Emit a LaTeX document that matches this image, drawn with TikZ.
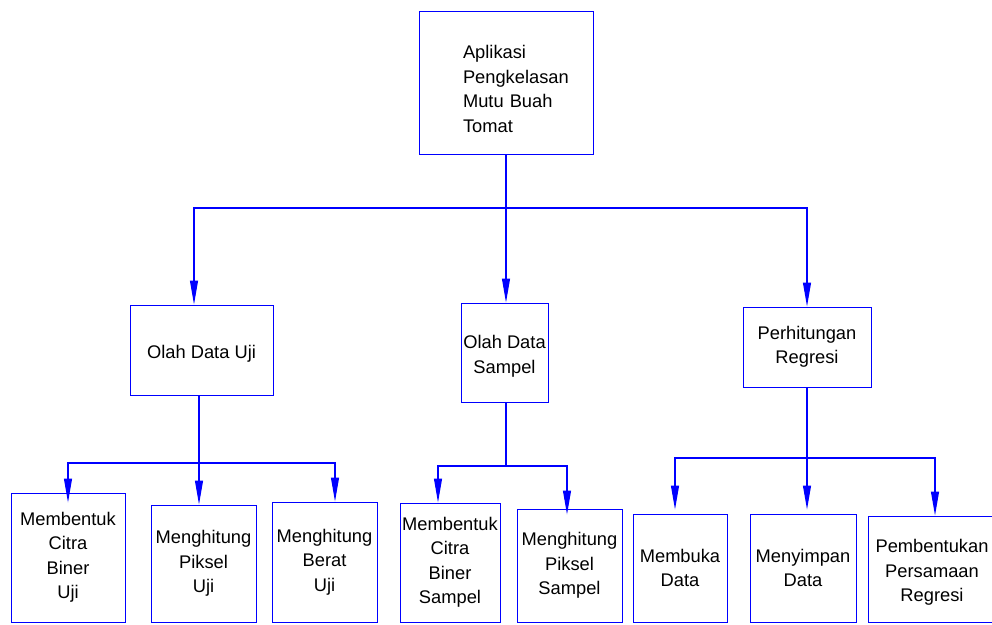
\documentclass[tikz,border=0pt]{standalone}
\usepackage{fontspec}
\setmainfont{Liberation Sans}
\usetikzlibrary{arrows.meta,positioning,calc}

\begin{document}
\begin{tikzpicture}[
    x=1pt, y=-1pt,
    every node/.style={font=\fontsize{18.3}{24.5}\selectfont},
    box/.style={
        rectangle,
        draw=blue,
        line width=1pt,
        inner sep=0pt,
        align=center
    },
    link/.style={draw=blue, line width=1.1pt},
    arr/.style={link, -{Triangle[length=24pt,width=8pt]}}
]
\useasboundingbox (0,0) rectangle (992,624);

% Root
\node[box, minimum width=174pt, minimum height=143pt, text width=86pt, align=left] (app) at (506,82.5) {
    \rule{0pt}{26pt}Aplikasi\\
    Pengkelasan\\
    Mutu~Buah\\
    Tomat
};

% Second level
\node[box, minimum width=143pt, minimum height=90pt] (uji) at (201.5,350) {\rule{0pt}{21pt}Olah Data Uji};
\node[box, minimum width=87pt, minimum height=99pt] (sampel) at (504.5,352.5) {\rule{0pt}{21pt}Olah Data\\Sampel};
\node[box, minimum width=128pt, minimum height=80pt] (regresi) at (807,347) {Perhitungan\\Regresi};

% Third level
\node[box, minimum width=114pt, minimum height=129pt] (citraUji) at (68,557.5) {Membentuk\\Citra\\Biner\\Uji};
\node[box, minimum width=105pt, minimum height=117pt] (pikselUji) at (203.5,563.5) {Menghitung\\Piksel\\Uji};
\node[box, minimum width=105pt, minimum height=120pt] (beratUji) at (324.5,562) {Menghitung\\Berat\\Uji};
\node[box, minimum width=100pt, minimum height=119pt] (citraSampel) at (450,562.5) {Membentuk\\Citra\\Biner\\Sampel};
\node[box, minimum width=105pt, minimum height=113pt] (pikselSampel) at (569.5,565.5) {Menghitung\\Piksel\\Sampel};
\node[box, minimum width=94pt, minimum height=108pt] (buka) at (680,568) {Membuka\\Data};
\node[box, minimum width=106pt, minimum height=108pt] (simpan) at (803,568) {Menyimpan\\Data};
\node[box, minimum width=128pt, minimum height=106pt] (persamaan) at (932,569) {\rule{0pt}{20pt}Pembentukan\\Persamaan\\Regresi};

% Branch points
\coordinate (busTop) at (506,208);
\coordinate (busUji) at (199,463);
\coordinate (busSampel) at (506,466);
\coordinate (busRegresi) at (807,458);

% Root to second level
\draw[link] (app.south) -- (busTop);
\draw[arr] (busTop) -| ([xshift=-7.5pt]uji.north);
\draw[arr] (busTop) -- (busTop |- sampel.north);
\draw[arr] (busTop) -| (regresi.north);

% Olah Data Uji
\draw[link] (uji.south -| busUji) -- (busUji);
\draw[arr] (busUji) -| ([yshift=-10pt]citraUji.north);
\draw[arr] (busUji) -- (busUji |- pikselUji.north);
\draw[arr] (busUji) -| ([xshift=10.5pt]beratUji.north);

% Olah Data Sampel
\draw[link] (sampel.south -| busSampel) -- (busSampel);
\draw[arr] (busSampel) -| ([xshift=-12pt]citraSampel.north);
\draw[arr] (busSampel) -| ([xshift=-2.5pt,yshift=-6pt]pikselSampel.north);

% Perhitungan Regresi
\draw[link] (regresi.south) -- (busRegresi);
\draw[arr] (busRegresi) -| ([xshift=-5pt,yshift=4pt]buka.north);
\draw[arr] (busRegresi) -- ([yshift=4pt]busRegresi |- simpan.north);
\draw[arr] (busRegresi) -| ([xshift=3pt]persamaan.north);

\end{tikzpicture}
\end{document}
